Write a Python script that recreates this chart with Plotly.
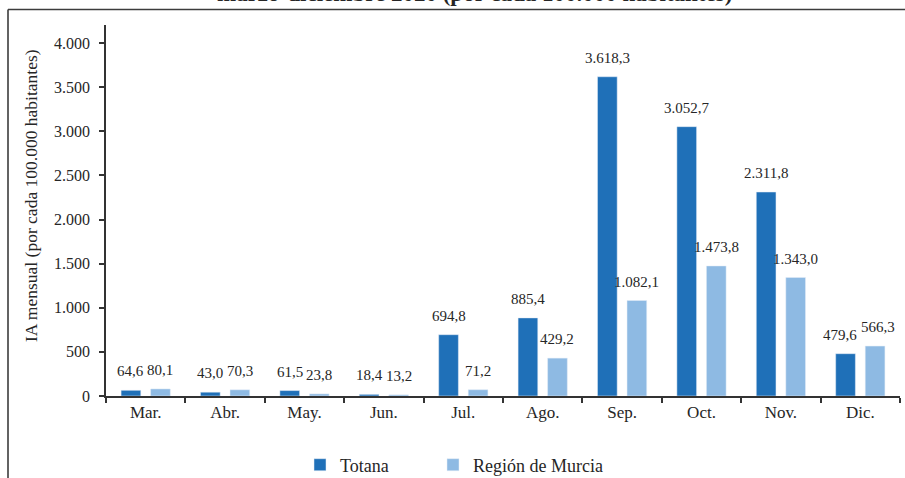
import plotly.graph_objects as go

# Monthly cumulative incidence, March-December 2020
months = ["Mar.", "Abr.", "May.", "Jun.", "Jul.", "Ago.", "Sep.", "Oct.", "Nov.", "Dic."]
totana = [64.6, 43.0, 61.5, 18.4, 694.8, 885.4, 3618.3, 3052.7, 2311.8, 479.6]
murcia = [80.1, 70.3, 23.8, 13.2, 71.2, 429.2, 1082.1, 1473.8, 1343.0, 566.3]
y_ticks = [0, 500, 1000, 1500, 2000, 2500, 3000, 3500, 4000]

COL_TOTANA = "#1f70b8"
COL_MURCIA = "#8ebae3"
FONT = "Liberation Serif"
TXT = "#262626"

W, H = 905, 478
ML, MR, MT, MB = 106, 5, 25, 82
plot_w = W - ML - MR
plot_h = H - MT - MB
cat_px = plot_w / len(months)

BAR_W = 0.248
OFF_TOTANA = -0.310
OFF_MURCIA = 0.062


def es_num(v, dec=1):
    """Spanish number format: '.' thousands, ',' decimals."""
    s = f"{v:,.{dec}f}"
    return s.replace(",", "X").replace(".", ",").replace("X", ".")


def px_x(px):
    return (px - ML) / plot_w


def px_y(px):
    return (H - MB - px) / plot_h


fig = go.Figure()
fig.add_trace(go.Bar(name="Totana", x=months, y=totana, marker_color=COL_TOTANA,
                     width=BAR_W, offset=OFF_TOTANA, hoverinfo="x+y", legend="legend"))
fig.add_trace(go.Bar(name="Región de Murcia", x=months, y=murcia, marker_color=COL_MURCIA,
                     width=BAR_W, offset=OFF_MURCIA, hoverinfo="x+y", legend="legend2"))

# value labels above each bar (small sideways nudges where neighbours collide)
nudge = {("t", 9): -6, ("m", 9): 3}
annotations = []
for key, vals, off in (("t", totana, OFF_TOTANA), ("m", murcia, OFF_MURCIA)):
    centre = (off + BAR_W / 2) * cat_px
    for i, v in enumerate(vals):
        annotations.append(dict(
            x=months[i], y=v, xref="x", yref="y", text=es_num(v),
            showarrow=False, yanchor="bottom", xanchor="center",
            xshift=centre + nudge.get((key, i), 0), yshift=9,
            font=dict(family=FONT, size=15, color=TXT)))

# vertical axis title
annotations.append(dict(
    x=px_x(31), y=px_y(196), xref="paper", yref="paper",
    text="IA mensual (por cada 100.000 habitantes)", textangle=-90,
    showarrow=False, xanchor="center", yanchor="middle",
    font=dict(family=FONT, size=17.5, color=TXT)))

# chart heading
annotations.append(dict(
    x=px_x(474), y=px_y(8), xref="paper", yref="paper",
    text="<b>marzo-diciembre 2020 (por cada 100.000 habitantes)</b>",
    showarrow=False, xanchor="center", yanchor="bottom",
    font=dict(family=FONT, size=23, color=TXT)))

# outer frame of the chart box (top and left edges)
frame = dict(color="#3c3c3c", width=1.6)
shapes = [
    dict(type="line", xref="paper", yref="paper", x0=px_x(8), x1=px_x(W + 10),
         y0=px_y(9.5), y1=px_y(9.5), line=frame),
    dict(type="line", xref="paper", yref="paper", x0=px_x(8), x1=px_x(8),
         y0=px_y(9.5), y1=px_y(H + 10), line=frame),
]

legend_style = dict(orientation="h", yanchor="middle", xanchor="left",
                    font=dict(family=FONT, size=18, color=TXT),
                    bgcolor="rgba(0,0,0,0)", borderwidth=0)

fig.update_layout(
    width=W, height=H,
    margin=dict(l=ML, r=MR, t=MT, b=MB, autoexpand=False),
    paper_bgcolor="white", plot_bgcolor="white",
    barmode="group",
    font=dict(family=FONT, color=TXT),
    annotations=annotations, shapes=shapes,
    showlegend=True,
    legend=dict(x=px_x(300), y=px_y(465), **legend_style),
    legend2=dict(x=px_x(433), y=px_y(465), **legend_style),
)

fig.update_xaxes(type="category", showline=True, linecolor="#333333", linewidth=1.5,
                 ticks="outside", tickson="boundaries", ticklen=5, tickcolor="#333333",
                 tickwidth=1.5, showgrid=False, tickfont=dict(family=FONT, size=17, color=TXT))
fig.update_yaxes(range=[0, 4205], tickvals=y_ticks, ticktext=[es_num(v, 0) for v in y_ticks],
                 showline=True, linecolor="#333333", linewidth=1.5, ticks="outside",
                 ticklen=5, tickcolor="#333333", tickwidth=1.5, showgrid=False, zeroline=False,
                 tickfont=dict(family=FONT, size=16, color=TXT), ticklabelstandoff=6)

fig.write_html("out.html")
